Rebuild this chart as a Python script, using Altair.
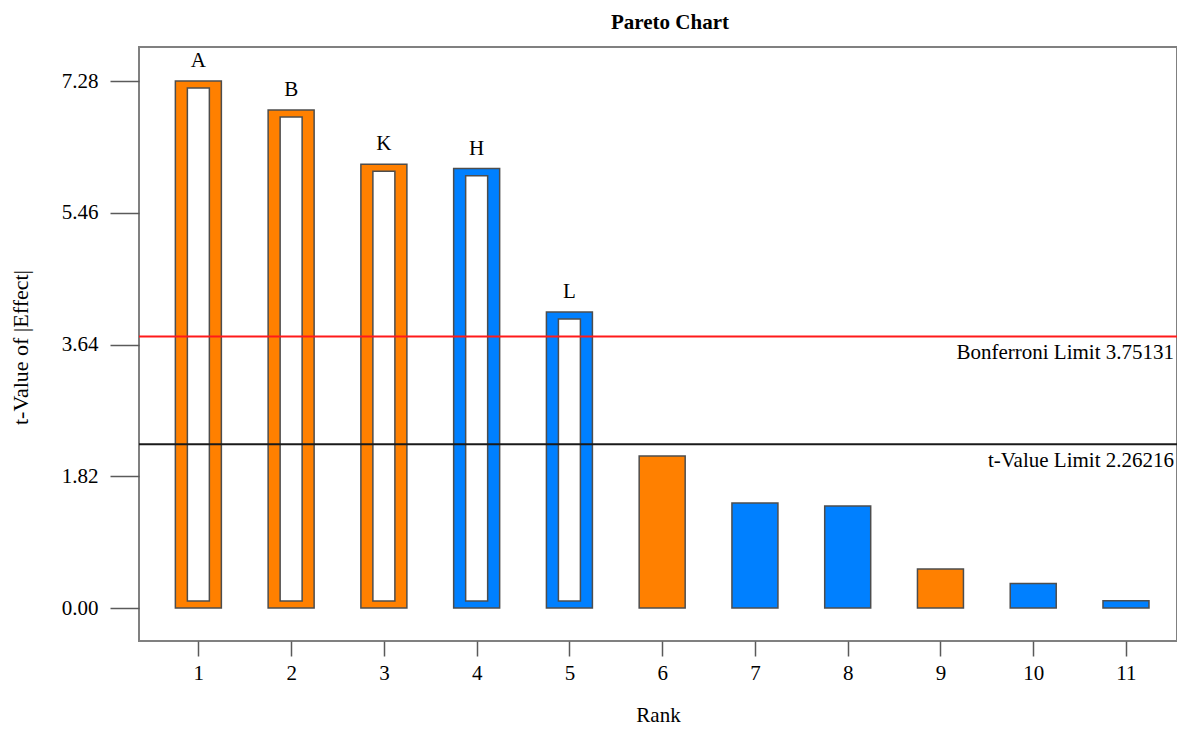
import altair as alt
import pandas as pd

# ---- data ----
ranks = [1, 2, 3, 4, 5, 6, 7, 8, 9, 10, 11]
terms = ["A", "B", "K", "H", "L", "", "", "", "", "", ""]
t_values = [7.28, 6.88, 6.13, 6.07, 4.09, 2.10, 1.45, 1.41, 0.54, 0.34, 0.10]
effect_sign = ["+", "+", "+", "-", "-", "+", "-", "-", "+", "-", "-"]
y_ticks = [0.00, 1.82, 3.64, 5.46, 7.28]
x_ticks = ranks

limit_names = ["Bonferroni Limit", "t-Value Limit"]
limit_values = [3.75131, 2.26216]
limit_colors = ["#ff1a1a", "#1a1a1a"]
t_limit = limit_values[1]

bars = pd.DataFrame({"rank": ranks, "term": terms, "t": t_values, "sign": effect_sign})
limits = pd.DataFrame({"name": limit_names, "value": limit_values, "color": limit_colors})
limits["label"] = [f"{n} {v}" for n, v in zip(limit_names, limit_values)]

FONT = "Liberation Serif"
FS = 21
W, H = 1038, 594

x_scale = alt.Scale(domain=[0.36, 11.55], nice=False, zero=False, padding=0)
y_scale = alt.Scale(domain=[-0.455, 7.75], nice=False, zero=False, padding=0)

x_enc = alt.X(
    "rank:Q",
    scale=x_scale,
    axis=alt.Axis(
        values=x_ticks, format="d", title="Rank", tickSize=15, labelPadding=6,
        titleY=80, titleBaseline="alphabetic",
    ),
)
y_enc = alt.Y(
    "t:Q",
    scale=y_scale,
    axis=alt.Axis(
        values=y_ticks, format=".2f", title="t-Value of |Effect|", tickSize=29,
        labelPadding=12, titleX=-119, titleY=300, titleBaseline="middle",
        titleAngle=270, titleFontSize=22,
    ),
)

base = alt.Chart(bars)

outer = base.mark_bar(size=46, stroke="#4d4d4d", strokeWidth=1.5).encode(
    x=x_enc,
    y=y_enc,
    y2=alt.datum(0),
    color=alt.Color(
        "sign:N",
        scale=alt.Scale(domain=["+", "-"], range=["#ff8000", "#0080ff"]),
        legend=None,
    ),
)

inner = (
    base.transform_filter(alt.datum.t > t_limit)
    .transform_calculate(top="datum.t - 0.097", bottom="0.097")
    .mark_bar(size=22, color="white", stroke="#4d4d4d", strokeWidth=1.5)
    .encode(
        x=alt.X("rank:Q", scale=x_scale),
        y=alt.Y("top:Q", scale=y_scale),
        y2="bottom:Q",
    )
)

labels = (
    base.transform_filter(alt.datum.t > t_limit)
    .mark_text(baseline="bottom", dy=-10, font=FONT, fontSize=FS, color="black")
    .encode(x=alt.X("rank:Q", scale=x_scale), y=alt.Y("t:Q", scale=y_scale), text="term:N")
)

lim_base = alt.Chart(limits)
rules = lim_base.mark_rule(strokeWidth=2).encode(
    y=alt.Y("value:Q", scale=y_scale),
    color=alt.Color("color:N", scale=None),
)
lim_text = lim_base.mark_text(
    align="right", baseline="top", dy=6, font=FONT, fontSize=FS, color="black"
).encode(
    x=alt.value(W - 3),
    y=alt.Y("value:Q", scale=y_scale),
    text="label:N",
)

chart = (
    alt.layer(outer, inner, rules, labels, lim_text)
    .properties(
        width=W,
        height=H,
        title=alt.TitleParams(
            "Pareto Chart", font=FONT, fontSize=FS, fontWeight="bold", anchor="middle",
            dx=12, dy=20, baseline="alphabetic", offset=17, frame="group", color="black",
        ),
        autosize=alt.AutoSizeParams(type="none"),
        padding={"left": 131, "top": 39, "right": 0, "bottom": 85},
    )
    .configure_view(stroke="#808080", strokeWidth=2)
    .configure_axis(
        grid=False, domain=False, tickColor="#5a5a5a", tickWidth=1.5,
        labelFont=FONT, labelFontSize=FS, labelColor="black",
        titleFont=FONT, titleFontSize=FS, titleFontWeight="normal", titleColor="black",
    )
)

chart.save("out.html", embed_options={"renderer": "svg", "actions": False})
